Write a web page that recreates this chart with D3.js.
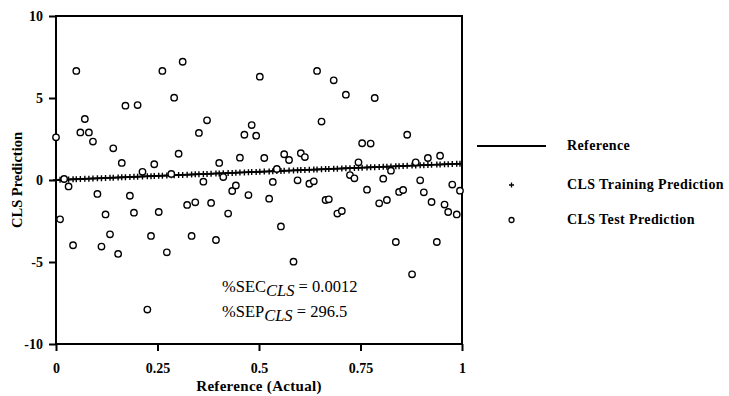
<!DOCTYPE html>
<html>
<head>
<meta charset="utf-8">
<script src="https://cdn.jsdelivr.net/npm/d3@7"></script>
<style>
  body { margin: 0; background: #fff; }
  text { font-family: "Liberation Serif", "DejaVu Serif", serif; fill: #000; }
</style>
</head>
<body>
<div id="chart"></div>
<script>
// reference (actual) values, shared by training and test sets
const refActual = [0.000,0.010,0.020,0.031,0.042,0.050,0.060,0.071,0.081,0.091,
  0.102,0.112,0.122,0.133,0.141,0.153,0.162,0.171,0.182,0.192,
  0.201,0.213,0.225,0.234,0.242,0.253,0.262,0.273,0.284,0.291,
  0.302,0.312,0.323,0.334,0.343,0.352,0.363,0.372,0.382,0.394,
  0.402,0.412,0.424,0.434,0.443,0.453,0.464,0.474,0.482,0.493,
  0.502,0.513,0.525,0.534,0.544,0.554,0.562,0.574,0.585,0.595,
  0.603,0.613,0.624,0.635,0.643,0.654,0.664,0.672,0.684,0.693,
  0.704,0.714,0.724,0.735,0.745,0.754,0.766,0.775,0.785,0.796,
  0.806,0.815,0.825,0.837,0.845,0.855,0.865,0.877,0.886,0.897,
  0.906,0.916,0.925,0.938,0.946,0.957,0.966,0.976,0.987,0.995];

// training predictions sit on the reference (%SEC = 0.0012)
const trainPred = refActual;

const testPred = [2.6,-2.4,0.06,-0.39,-3.98,6.65,2.9,3.72,2.9,2.34,
  -0.85,-4.06,-2.1,-3.31,1.93,-4.51,1.04,4.53,-0.96,-1.99,
  4.57,0.5,-7.9,-3.41,0.96,-1.95,6.65,-4.41,0.37,5.02,
  1.6,7.21,-1.52,-3.41,-1.36,2.87,-0.1,3.64,-1.4,-3.66,
  1.04,0.18,-2.05,-0.67,-0.33,1.36,2.76,-0.92,3.35,2.7,
  6.3,1.34,-1.14,-0.12,0.67,-2.83,1.57,1.22,-4.98,-0.02,
  1.63,1.4,-0.23,-0.08,6.65,3.56,-1.22,-1.18,6.08,-2.05,
  -1.89,5.2,0.3,0.1,1.08,2.24,-0.59,2.22,5.0,-1.42,
  0.08,-1.22,0.57,-3.78,-0.73,-0.61,2.76,-5.75,1.08,-0.02,
  -0.75,1.34,-1.34,-3.78,1.48,-1.5,-1.95,-0.28,-2.1,-0.65];

const xTicks = [0, 0.25, 0.5, 0.75, 1];
const xTickLabels = ["0", "0.25", "0.5", "0.75", "1"];
const yTicks = [-10, -5, 0, 5, 10];
const yTickLabels = ["-10", "-5", "0", "5", "10"];
const legendLabels = ["Reference", "CLS Training Prediction", "CLS Test Prediction"];

const width = 729, height = 396;
const margin = {top: 16, right: 267, bottom: 52, left: 56};
const w = width - margin.left - margin.right;
const h = height - margin.top - margin.bottom;

const svg = d3.select("#chart").append("svg")
    .attr("width", width)
    .attr("height", height);

const g = svg.append("g")
    .attr("transform", "translate(" + margin.left + "," + margin.top + ")");

const x = d3.scaleLinear().domain([0, 1]).range([0, w]);
const y = d3.scaleLinear().domain([-10, 10]).range([h, 0]);

// axes
const xAxis = g.append("g")
    .attr("transform", "translate(0," + h + ")")
    .call(d3.axisBottom(x).tickValues(xTicks).tickFormat((d, i) => xTickLabels[i]).tickSize(7).tickSizeOuter(0));
const yAxis = g.append("g")
    .call(d3.axisLeft(y).tickValues(yTicks).tickFormat((d, i) => yTickLabels[i]).tickSize(7).tickSizeOuter(0));

[xAxis, yAxis].forEach(a => {
  a.select(".domain").remove();
  a.selectAll(".tick line").attr("stroke", "#000").attr("stroke-width", 2);
  a.selectAll(".tick text")
    .style("font-size", "14px")
    .style("font-weight", "bold");
});
xAxis.selectAll(".tick text").attr("y", 19);
yAxis.selectAll(".tick text").attr("x", -13);

// frame
g.append("rect")
    .attr("x", 0).attr("y", 0)
    .attr("width", w).attr("height", h)
    .attr("fill", "none")
    .attr("stroke", "#000")
    .attr("stroke-width", 2);

// reference line
g.append("line")
    .attr("x1", x(0)).attr("y1", y(0))
    .attr("x2", x(1)).attr("y2", y(1))
    .attr("stroke", "#000")
    .attr("stroke-width", 1.8);

// training predictions (+)
const plus = 3;
g.append("g").selectAll("path")
  .data(refActual)
  .enter()
  .append("path")
    .attr("d", (d, i) => {
      const cx = x(d), cy = y(trainPred[i]);
      return "M" + (cx - plus) + "," + cy + "H" + (cx + plus) + "M" + cx + "," + (cy - plus) + "V" + (cy + plus);
    })
    .attr("stroke", "#000")
    .attr("stroke-width", 1.4);

// test predictions (o)
g.append("g").selectAll("circle")
  .data(refActual)
  .enter()
  .append("circle")
    .attr("cx", d => x(d))
    .attr("cy", (d, i) => y(testPred[i]))
    .attr("r", 3.2)
    .attr("fill", "#fff")
    .attr("stroke", "#000")
    .attr("stroke-width", 1.4);

// statistics
const stats = [["%SEC", "CLS", " = 0.0012"], ["%SEP", "CLS", " = 296.5"]];
stats.forEach((s, i) => {
  const t = g.append("text")
      .attr("x", 166)
      .attr("y", 276 + i * 25)
      .style("font-size", "16.5px");
  t.append("tspan").text(s[0]);
  t.append("tspan").attr("dy", 4).style("font-style", "italic").text(s[1]);
  t.append("tspan").attr("dy", -4).text(s[2]);
});

// axis titles
svg.append("text")
    .attr("x", margin.left + w / 2)
    .attr("y", 391)
    .attr("text-anchor", "middle")
    .style("font-size", "15px")
    .style("font-weight", "bold")
    .style("letter-spacing", "0.3px")
    .text("Reference (Actual)");

svg.append("text")
    .attr("transform", "translate(22," + (margin.top + h / 2) + ") rotate(-90)")
    .attr("text-anchor", "middle")
    .style("font-size", "14.5px")
    .style("font-weight", "bold")
    .text("CLS Prediction");

// legend
const legend = svg.append("g");
const rows = [146, 185, 220];
legend.append("line")
    .attr("x1", 477).attr("x2", 546)
    .attr("y1", rows[0]).attr("y2", rows[0])
    .attr("stroke", "#000").attr("stroke-width", 1.8);
legend.append("path")
    .attr("d", "M509," + rows[1] + "H514M511.5," + (rows[1] - 2.5) + "V" + (rows[1] + 2.5))
    .attr("stroke", "#000").attr("stroke-width", 1.3);
legend.append("circle")
    .attr("cx", 511.5).attr("cy", rows[2]).attr("r", 2.5)
    .attr("fill", "#fff").attr("stroke", "#000").attr("stroke-width", 1.3);
legendLabels.forEach((l, i) => {
  legend.append("text")
      .attr("x", 567)
      .attr("y", rows[i] + 4)
      .style("font-size", "14px")
      .style("font-weight", "bold")
      .style("letter-spacing", "0.4px")
      .text(l);
});
</script>
</body>
</html>
